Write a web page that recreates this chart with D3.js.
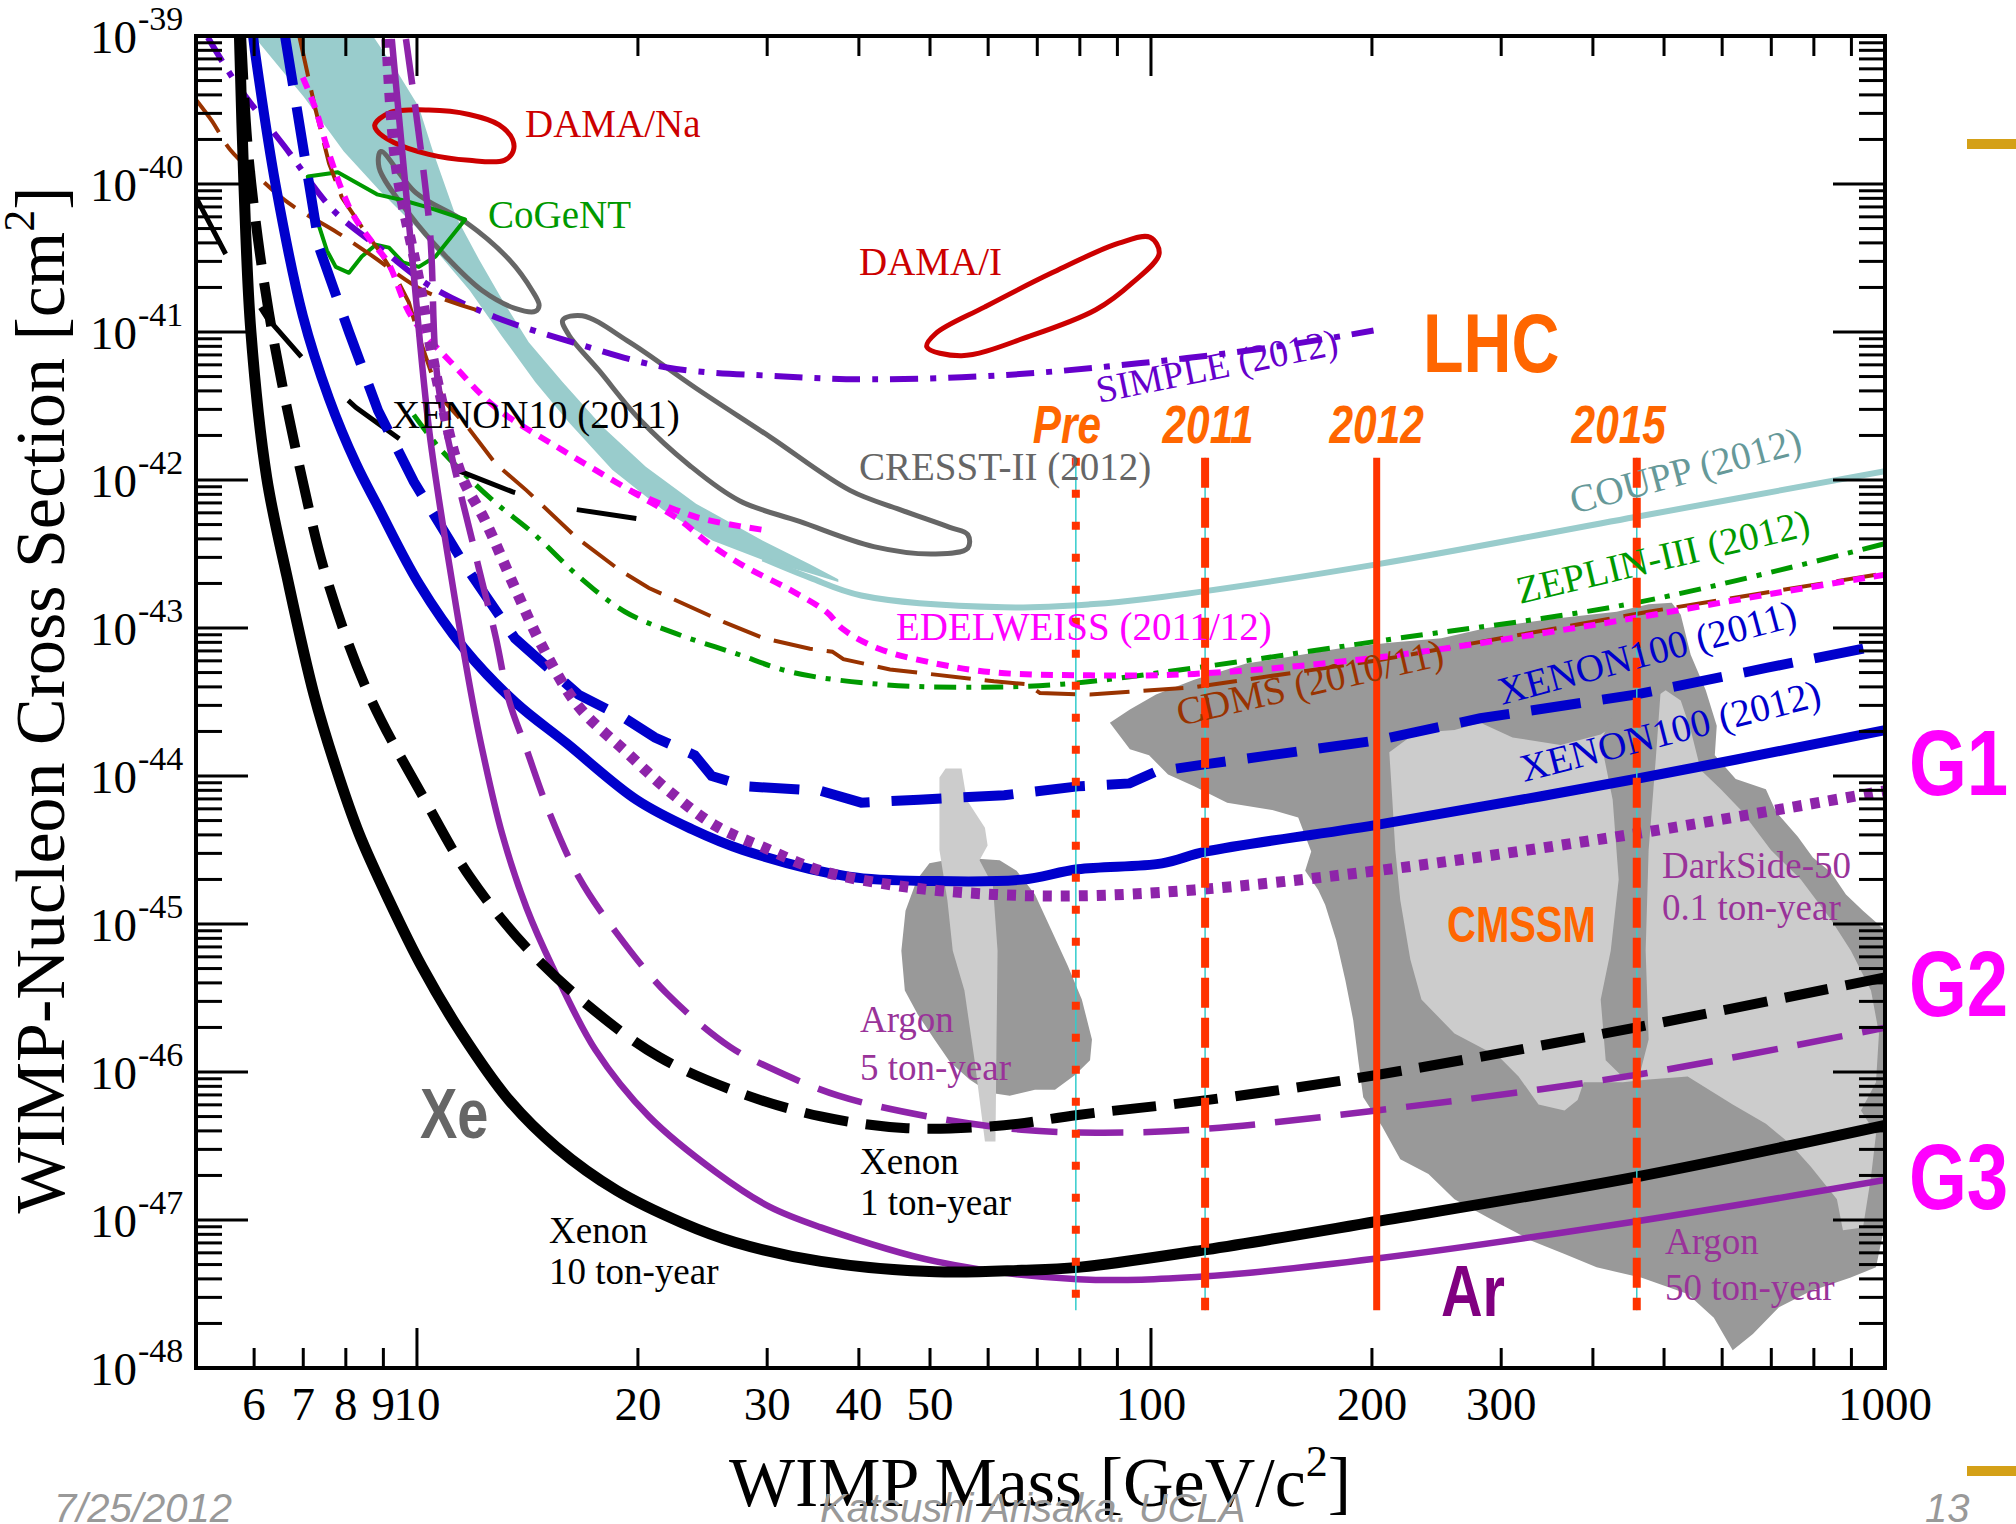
<!DOCTYPE html>
<html><head><meta charset="utf-8">
<script src="https://cdn.jsdelivr.net/npm/d3@7"></script>
<style>body{margin:0;background:#fff}svg{display:block}</style>
</head><body>
<svg id="c" width="2016" height="1524"></svg>
<script>
// ---------- DATA: [WIMP mass (GeV), log10(cross section / cm^2)] ----------
const xenon10t = [[5.73,-39.0],[5.81,-39.99],[5.94,-41.0],[6.24,-41.98],[6.65,-42.65],[7.24,-43.45],[7.75,-43.94],[8.34,-44.39],[9.16,-44.84],[10.16,-45.29],[11.5,-45.74],[13.35,-46.19],[15.5,-46.51],[18.7,-46.80],[23.0,-47.02],[27.1,-47.15],[35.5,-47.28],[50.9,-47.35],[66.7,-47.34],[79.5,-47.32],[119,-47.20],[203,-47.01],[457,-46.71],[1000,-46.36]];
const xenon1t = [[5.76,-39.0],[5.90,-39.83],[6.28,-40.86],[6.99,-42.01],[7.54,-42.67],[8.6,-43.45],[10.3,-44.18],[11.8,-44.68],[14.1,-45.16],[17.2,-45.56],[21.4,-45.90],[27.5,-46.14],[35.5,-46.30],[46.5,-46.38],[63.1,-46.36],[79.5,-46.29],[119,-46.19],[203,-46.02],[457,-45.70],[1000,-45.36]];
const xenon100_2012 = [[5.98,-39.0],[6.03,-39.14],[6.42,-40.01],[6.99,-40.89],[7.59,-41.45],[8.26,-41.89],[8.85,-42.18],[10.06,-42.70],[11.6,-43.14],[13.6,-43.50],[16.0,-43.78],[19.9,-44.16],[23.7,-44.36],[27.8,-44.50],[38.8,-44.68],[50.9,-44.71],[66.7,-44.70],[79.5,-44.63],[103.5,-44.59],[119,-44.51],[203,-44.33],[457,-44.02],[1000,-43.69]];
const xenon100_2011 = [[6.61,-39.0],[6.84,-39.45],[7.37,-40.44],[8.08,-41.0],[8.85,-41.53],[9.9,-42.01],[11.6,-42.57],[13.6,-43.07],[16.6,-43.45],[19.2,-43.61],[21.1,-43.74],[23.9,-43.86],[25.2,-44.0],[28.1,-44.07],[35.5,-44.10],[40.3,-44.18],[48.3,-44.16],[63.1,-44.13],[79.5,-44.07],[93.5,-44.05],[101.6,-43.97],[119,-43.92],[203,-43.76],[281,-43.61],[457,-43.45],[689,-43.27],[1000,-43.11]];
const darkside50 = [[9.1,-39.02],[9.36,-39.86],[10.06,-40.65],[10.7,-41.37],[11.5,-41.97],[12.4,-42.28],[13.6,-42.73],[14.8,-43.12],[16.6,-43.53],[19.3,-43.84],[21.9,-44.09],[25.6,-44.34],[29.6,-44.48],[35.5,-44.64],[46.5,-44.75],[61.1,-44.80],[79.5,-44.81],[114.5,-44.77],[203,-44.64],[457,-44.39],[1000,-44.10]];
const argon5t = [[9.66,-39.02],[10.4,-40.28],[10.7,-41.37],[12.0,-42.49],[12.8,-43.06],[13.35,-43.49],[14.1,-43.82],[15.1,-44.23],[16.6,-44.68],[18.7,-45.06],[21.9,-45.47],[26.7,-45.83],[30.2,-45.97],[37.5,-46.16],[50.9,-46.31],[66.7,-46.39],[84.3,-46.41],[114.5,-46.39],[203,-46.26],[457,-46.02],[1000,-45.70]];
const argon50t = [[9.24,-39.02],[9.84,-40.47],[10.4,-41.68],[11.2,-42.73],[11.9,-43.49],[12.27,-43.82],[13.06,-44.39],[14.1,-44.89],[15.3,-45.29],[17.5,-45.85],[20.7,-46.30],[25.6,-46.68],[30.2,-46.91],[35.5,-47.05],[50.9,-47.28],[79.5,-47.40],[119,-47.38],[203,-47.26],[457,-47.01],[1000,-46.73]];
const simple2012 = [[5.19,-39.01],[5.71,-39.34],[6.61,-39.75],[7.70,-40.18],[9.0,-40.45],[10.5,-40.70],[12.8,-40.90],[16.3,-41.07],[21.9,-41.24],[31.6,-41.30],[41.8,-41.32],[63.6,-41.29],[96.9,-41.21],[147.6,-41.10],[201,-40.99]];
const coupp2012 = [[29.6,-42.53],[34.3,-42.66],[40.3,-42.78],[63.1,-42.86],[82.6,-42.84],[103.5,-42.79],[203,-42.57],[457,-42.25],[1000,-41.94]];
const zeplin3 = [[9.9,-41.56],[10.8,-41.80],[12.7,-42.14],[14.4,-42.36],[16.6,-42.65],[19.2,-42.89],[22.6,-43.04],[27.1,-43.17],[32.5,-43.30],[42.6,-43.38],[55.8,-43.40],[75.6,-43.38],[114.5,-43.27],[203,-43.09],[457,-42.83],[1000,-42.43]];
const edelweiss = [[6.99,-39.28],[7.26,-39.48],[7.54,-39.75],[7.90,-40.04],[8.21,-40.22],[8.71,-40.40],[9.13,-40.53],[9.84,-40.90],[11.3,-41.24],[12.8,-41.51],[15.8,-41.80],[19.5,-42.07],[22.8,-42.27],[25.0,-42.43],[28.1,-42.59],[31.9,-42.73],[36.1,-42.89],[38.1,-43.01],[42.6,-43.14],[50.9,-43.24],[61.1,-43.30],[82.6,-43.32],[114.5,-43.31],[203,-43.20],[389,-42.99],[717,-42.76],[1000,-42.64]];
const edelweissBranch = [[19.5,-42.07],[24.0,-42.25],[29.9,-42.34]];
const cdms = [[6.92,-39.01],[7.26,-39.48],[7.59,-39.86],[7.90,-40.09],[8.41,-40.29],[8.88,-40.45],[9.36,-40.63],[9.75,-40.80],[10.06,-41.03],[10.5,-41.30],[10.95,-41.48],[11.8,-41.66],[12.8,-41.89],[14.1,-42.07],[16.5,-42.39],[18.9,-42.61],[20.7,-42.73],[26.2,-42.96],[29.7,-43.07],[34.3,-43.14],[36.8,-43.16],[38.1,-43.21],[44.1,-43.28],[61.1,-43.36],[67.9,-43.38],[70.6,-43.44],[82.6,-43.45],[114.5,-43.40],[203,-43.22],[476,-42.89],[1000,-42.63]];
const cdmsLow = [[5.0,-39.43],[5.25,-39.57],[5.57,-39.77],[6.07,-39.95],[6.69,-40.13],[7.80,-40.33],[8.60,-40.47],[10.2,-40.72],[12.04,-40.85]];
const xenon10_2011 = [[5.0,-40.09],[5.51,-40.49],[6.24,-40.90],[7.08,-41.21],[8.26,-41.51],[9.51,-41.73],[11.3,-41.93],[13.5,-42.08],[16.5,-42.20],[19.9,-42.26]];
const tealBand = [[8.71,-39.0],[9.45,-39.26],[10.06,-39.48],[10.5,-39.77],[11.3,-40.22],[12.15,-40.51],[13.06,-40.78],[14.2,-41.07],[15.8,-41.34],[17.9,-41.64],[20.5,-41.91],[24.0,-42.16],[29.6,-42.41],[34.3,-42.57],[37.5,-42.67],
  [37.5,-42.69],[34.3,-42.63],[29.6,-42.54],[25.3,-42.41],[21.6,-42.20],[18.45,-41.93],[16.1,-41.61],[14.5,-41.34],[13.06,-41.03],[11.8,-40.72],[10.7,-40.47],[9.97,-40.29],[8.88,-40.04],[7.95,-39.78],[7.01,-39.41],[5.99,-39.0]];
const cresstA = [[8.93,-39.78],[9.97,-40.06],[11.67,-40.26],[13.35,-40.51],[14.35,-40.72],[14.67,-40.82],[14.5,-40.86],[13.6,-40.84],[12.27,-40.72],[10.95,-40.49],[9.75,-40.20],[8.88,-39.89]];
const cresstB = [[15.8,-40.92],[16.8,-40.89],[19.5,-41.07],[24.0,-41.38],[30.3,-41.71],[38.9,-42.07],[45.5,-42.20],[53.2,-42.32],[56.3,-42.37],[56.3,-42.46],[50.9,-42.50],[41.9,-42.45],[33.2,-42.28],[27.5,-42.14],[23.5,-41.90],[20.1,-41.59],[17.7,-41.26],[16.1,-41.02]];
const damaNa = [[8.76,-39.60],[9.16,-39.52],[10.38,-39.50],[11.78,-39.53],[12.94,-39.60],[13.5,-39.70],[13.52,-39.78],[13.15,-39.84],[11.78,-39.84],[10.38,-39.80],[9.30,-39.72],[8.82,-39.64]];
const damaI = [[49.5,-41.10],[55.2,-41.16],[68.2,-41.03],[84.1,-40.85],[94.2,-40.67],[102.6,-40.47],[99.7,-40.36],[90.4,-40.40],[73.3,-40.60],[59.4,-40.83],[50.9,-41.01]];
const cogent = [[7.10,-39.95],[7.80,-39.92],[8.82,-40.07],[9.57,-40.11],[10.38,-40.16],[11.63,-40.24],[10.6,-40.49],[10.06,-40.56],[9.57,-40.53],[9.16,-40.43],[8.79,-40.41],[8.41,-40.49],[8.08,-40.60],[7.75,-40.56],[7.54,-40.45],[7.35,-40.28]];
const cmssmSmallDark = [[45.7,-45.18],[46.3,-44.91],[48.0,-44.70],[49.9,-44.59],[54.9,-44.55],[62.2,-44.57],[65.6,-44.64],[69.5,-44.80],[73.0,-45.03],[77.0,-45.28],[80.5,-45.51],[83.1,-45.78],[82.6,-45.92],[78.8,-46.02],[74.0,-46.12],[69.5,-46.12],[64.2,-46.16],[60.3,-46.14],[56.6,-46.05],[53.2,-45.93],[50.7,-45.78],[48.1,-45.61],[46.2,-45.45]];
const cmssmSmallLight = [[51.5,-44.01],[52.5,-43.95],[55.2,-43.95],[56.1,-44.16],[59.4,-44.35],[59.9,-44.47],[58.4,-44.57],[60.9,-44.74],[61.8,-45.18],[61.6,-45.78],[61.4,-46.47],[59.4,-46.47],[57.5,-45.92],[55.7,-45.45],[53.7,-45.18],[52.8,-44.84],[51.5,-44.50]];
const cmssmDark = [[87.9,-43.64],[93.6,-43.55],[101.6,-43.45],[114.5,-43.35],[134.8,-43.24],[152.3,-43.20],[179.4,-43.14],[211.2,-43.10],[248.7,-43.07],[286.4,-43.00],[351.3,-42.94],[430.9,-42.89],[476.4,-42.84],[512.2,-42.83],[526.9,-42.91],[543.6,-43.18],[569.9,-43.42],[589.9,-43.66],[586.3,-43.86],[626.1,-44.02],[688.2,-44.09],[710.2,-44.24],[760.8,-44.41],[797.5,-44.55],[843.9,-44.65],[884.7,-44.80],[933.3,-44.91],[994,-45.03],[994,-47.09],[972.1,-47.32],[896.2,-47.39],[792.5,-47.48],[716.9,-47.59],[660.7,-47.77],[620.2,-47.88],[584.5,-47.66],[538.5,-47.50],[466.2,-47.39],[404.7,-47.32],[365.9,-47.23],[329.9,-47.14],[291.9,-47.00],[259.1,-46.86],[238.8,-46.69],[218.6,-46.59],[206.6,-46.37],[194.6,-46.17],[191.6,-45.92],[188.6,-45.65],[184.0,-45.38],[178.8,-45.11],[172.7,-44.87],[169.0,-44.77],[162.2,-44.64],[165.3,-44.51],[158.7,-44.28],[146.3,-44.23],[127.0,-44.18],[114.5,-44.07],[105.5,-43.99],[99.4,-43.86],[93.6,-43.82]];
const cmssmLight = [[211.2,-43.84],[229.2,-43.71],[259.1,-43.69],[281.1,-43.64],[310.9,-43.74],[361.4,-43.79],[409.9,-43.72],[479.6,-43.49],[502.5,-43.42],[526.9,-43.49],[543.6,-43.69],[561.0,-43.96],[597.5,-44.09],[636.1,-44.23],[699.1,-44.50],[768.0,-44.70],[843.9,-44.97],[898.6,-45.18],[957.0,-45.45],[981.3,-45.74],[972.1,-46.07],[927.4,-46.26],[972.1,-46.42],[957.0,-46.71],[933.3,-47.05],[876.4,-47.07],[860.0,-46.86],[792.5,-46.64],[744.4,-46.49],[688.2,-46.35],[620.2,-46.22],[538.5,-46.03],[476.4,-46.05],[439.2,-46.07],[388.6,-46.07],[381.3,-46.19],[365.9,-46.26],[337.3,-46.22],[316.8,-46.03],[298.4,-45.90],[259.1,-45.74],[233.6,-45.51],[225.6,-45.24],[218.6,-44.84],[215.2,-44.50],[213.2,-44.16]];
const cmssmArm = [[409.9,-43.76],[436.5,-43.49],[464.7,-43.35],[494.8,-43.42],[487.1,-43.89],[476.4,-44.50],[472.0,-45.18],[476.4,-45.78],[464.7,-45.99],[436.5,-46.02],[416.4,-45.92],[409.9,-45.51],[423.0,-45.18],[433.7,-44.70],[425.6,-44.16]];
const lhcMass = [79, 118.5, 203, 459];
const lhcLabels = ['Pre', '2011', '2012', '2015'];
const lhcSpan = [-41.85, -47.61];
const xMinorTicks = [6,7,8,9,20,30,40,50,60,70,80,90,200,300,400,500,600,700,800,900];
const xMajorTicks = [10,100];
const xTickLabels = [6,7,8,9,10,20,30,40,50,100,200,300,1000];
const yDecades = [-48,-47,-46,-45,-44,-43,-42,-41,-40,-39];

// ---------- SETUP ----------
const W = 2016, H = 1524;
const L = 196, R = 1885, T = 36, B = 1368;
const SERIF = "'Liberation Serif','Times New Roman',serif";
const NARROW = "'Liberation Sans Narrow','Arial Narrow','Liberation Sans',sans-serif";
const SANS = "'Liberation Sans',Arial,sans-serif";
const svg = d3.select('#c');
svg.append('rect').attr('width', W).attr('height', H).attr('fill', '#fff');
const x = d3.scaleLog().domain([5, 1000]).range([L, R]);
const y = d3.scaleLinear().domain([-48, -39]).range([B, T]);

svg.append('defs').append('clipPath').attr('id', 'clip')
  .append('rect').attr('x', L).attr('y', T).attr('width', R - L).attr('height', B - T);
const plot = svg.append('g').attr('clip-path', 'url(#clip)');

const smooth = d3.line().x(d => x(d[0])).y(d => y(d[1])).curve(d3.curveCatmullRom.alpha(0.5));
const linear = d3.line().x(d => x(d[0])).y(d => y(d[1]));
const closedSmooth = d3.line().x(d => x(d[0])).y(d => y(d[1])).curve(d3.curveCatmullRomClosed.alpha(0.5));
const closedLin = d3.line().x(d => x(d[0])).y(d => y(d[1])).curve(d3.curveLinearClosed);

// CMSSM regions
plot.append('path').attr('d', closedLin(cmssmDark)).attr('fill', '#999999');
plot.append('path').attr('d', closedLin(cmssmLight)).attr('fill', '#cccccc');
plot.append('path').attr('d', closedLin(cmssmArm)).attr('fill', '#999999');
plot.append('path').attr('d', closedLin(cmssmSmallDark)).attr('fill', '#999999');
plot.append('path').attr('d', closedLin(cmssmSmallLight)).attr('fill', '#cccccc');

// teal band
plot.append('path').attr('d', closedLin(tealBand)).attr('fill', '#99cccc');

// closed contours
plot.append('path').attr('d', closedSmooth(cresstA)).attr('fill', 'none').attr('stroke', '#666666').attr('stroke-width', 5);
plot.append('path').attr('d', closedSmooth(cresstB)).attr('fill', 'none').attr('stroke', '#666666').attr('stroke-width', 5);
plot.append('path').attr('d', closedSmooth(damaNa)).attr('fill', 'none').attr('stroke', '#cc0000').attr('stroke-width', 5);
plot.append('path').attr('d', closedSmooth(damaI)).attr('fill', 'none').attr('stroke', '#cc0000').attr('stroke-width', 5);
plot.append('path').attr('d', closedLin(cogent)).attr('fill', 'none').attr('stroke', '#009900').attr('stroke-width', 4).attr('stroke-linejoin', 'round');

function curve(data, color, width, dash, gen) {
  const p = plot.append('path').attr('d', (gen || smooth)(data)).attr('fill', 'none')
    .attr('stroke', color).attr('stroke-width', width);
  if (dash) p.attr('stroke-dasharray', dash);
  return p;
}
const PURPLE = '#8e24aa';
curve(coupp2012, '#99cccc', 6);
curve(simple2012, '#6600cc', 6, '28,12,6,12');
curve(zeplin3, '#009900', 5, '22,10,5,10');
curve(cdmsLow, '#993300', 4, '40,14');
curve(cdms, '#993300', 4, '40,14', linear);
curve(edelweissBranch, '#ff00ff', 6, '12,9');
curve(edelweiss, '#ff00ff', 6, '12,9');
curve(xenon10_2011, '#000000', 5, '64,64', linear);
curve(xenon100_2011, '#0000cc', 10, '50,22', linear);
curve(xenon100_2012, '#0000cc', 10);
curve(darkside50, PURPLE, 11, '9,9');
curve(argon5t, PURPLE, 6.5, '46,20');
curve(argon50t, PURPLE, 6.5);
curve(xenon1t, '#000000', 10, '44,18');
curve(xenon10t, '#000000', 11);

// LHC lines
const lhcDash = ['8,24', '30,10', null, '30,10'];
lhcMass.forEach((m, i) => {
  const X = x(m);
  if (i !== 2) svg.append('line').attr('x1', X).attr('x2', X).attr('y1', y(lhcSpan[0])).attr('y2', y(lhcSpan[1]))
    .attr('stroke', '#33cccc').attr('stroke-width', 1.5);
  const l = svg.append('line').attr('x1', X).attr('x2', X).attr('y1', y(lhcSpan[0])).attr('y2', y(lhcSpan[1]))
    .attr('stroke', '#ff3300').attr('stroke-width', i === 2 ? 7 : 8);
  if (lhcDash[i]) l.attr('stroke-dasharray', lhcDash[i]);
});

// condensed bold text helper (horizontal squeeze)
function big(t, px, py, size, color, anchor, italic) {
  svg.append('text').attr('transform', `translate(${px},${py}) scale(0.8,1)`)
    .attr('font-family', NARROW).attr('font-weight', 'bold').attr('font-style', italic ? 'italic' : 'normal')
    .attr('font-size', size).attr('fill', color).attr('text-anchor', anchor || 'start').text(t);
}
const lhcOff = [-9, 3, 0, -18];
lhcMass.forEach((m, i) => big(lhcLabels[i], x(m) + lhcOff[i], 443, 53, '#ff6600', 'middle', true));

// ---------- AXES ----------
const ax = svg.append('g').attr('stroke', '#000');
xMinorTicks.forEach(v => {
  ax.append('line').attr('x1', x(v)).attr('x2', x(v)).attr('y1', B).attr('y2', B - 20).attr('stroke-width', 3);
  ax.append('line').attr('x1', x(v)).attr('x2', x(v)).attr('y1', T).attr('y2', T + 20).attr('stroke-width', 3);
});
xMajorTicks.forEach(v => {
  ax.append('line').attr('x1', x(v)).attr('x2', x(v)).attr('y1', B).attr('y2', B - 40).attr('stroke-width', 3);
  ax.append('line').attr('x1', x(v)).attr('x2', x(v)).attr('y1', T).attr('y2', T + 40).attr('stroke-width', 3);
});
yDecades.forEach(e => {
  const Y = y(e);
  ax.append('line').attr('x1', L).attr('x2', L + 52).attr('y1', Y).attr('y2', Y).attr('stroke-width', 3);
  ax.append('line').attr('x1', R).attr('x2', R - 52).attr('y1', Y).attr('y2', Y).attr('stroke-width', 3);
  if (e < -39) for (let k = 2; k <= 9; k++) {
    const Yk = y(e + Math.log10(k));
    ax.append('line').attr('x1', L).attr('x2', L + 26).attr('y1', Yk).attr('y2', Yk).attr('stroke-width', 3);
    ax.append('line').attr('x1', R).attr('x2', R - 26).attr('y1', Yk).attr('y2', Yk).attr('stroke-width', 3);
  }
});
svg.append('rect').attr('x', L).attr('y', T).attr('width', R - L).attr('height', B - T)
  .attr('fill', 'none').attr('stroke', '#000').attr('stroke-width', 4);

xTickLabels.forEach(v => {
  svg.append('text').attr('x', x(v)).attr('y', 1420).attr('text-anchor', 'middle')
    .attr('font-family', SERIF).attr('font-size', 47).attr('fill', '#000').text(v);
});
yDecades.forEach(e => {
  const Y = y(e);
  svg.append('text').attr('x', 137).attr('y', Y + 17).attr('text-anchor', 'end')
    .attr('font-family', SERIF).attr('font-size', 47).text('10');
  svg.append('text').attr('x', 138).attr('y', Y - 6)
    .attr('font-family', SERIF).attr('font-size', 34).text(String(e));
});

// axis titles
const xt = svg.append('text').attr('x', 1040).attr('y', 1506).attr('text-anchor', 'middle')
  .attr('font-family', SERIF).attr('font-size', 70);
xt.append('tspan').text('WIMP Mass [GeV/c');
xt.append('tspan').attr('font-size', 44).attr('dy', -30).text('2');
xt.append('tspan').attr('dy', 30).text(']');
const yt = svg.append('text').attr('transform', 'translate(64,700) rotate(-90)').attr('text-anchor', 'middle')
  .attr('font-family', SERIF).attr('font-size', 70);
yt.append('tspan').text('WIMP-Nucleon Cross Section [cm');
yt.append('tspan').attr('font-size', 44).attr('dy', -30).text('2');
yt.append('tspan').attr('dy', 30).text(']');

// ---------- ANNOTATIONS ----------
function note(t, px, py, color, angle, size) {
  const el = svg.append('text').attr('font-family', SERIF).attr('font-size', size || 39).attr('fill', color).text(t);
  if (angle) el.attr('transform', `translate(${px},${py}) rotate(${angle})`);
  else el.attr('x', px).attr('y', py);
  return el;
}
note('DAMA/Na', 525, 137, '#cc0000');
note('CoGeNT', 488, 228, '#009900');
note('DAMA/I', 859, 275, '#cc0000');
note('SIMPLE (2012)', 1099, 403, '#6600cc', -11.5, 38);
note('XENON10 (2011)', 392, 428, '#000000');
note('CRESST-II (2012)', 859, 480, '#666666');
note('EDELWEISS (2011/12)', 896, 640, '#ff00ff');
note('COUPP (2012)', 1574, 514, '#669999', -15);
note('ZEPLIN-III (2012)', 1520, 604, '#009900', -13.3);
note('CDMS (2010/11)', 1180, 726, '#993300', -13);
note('XENON100 (2011)', 1502, 705, '#0000cc', -15);
note('XENON100 (2012)', 1524, 782, '#0000cc', -14.4);
note('DarkSide-50', 1662, 878, '#993399', 0, 37);
note('0.1 ton-year', 1662, 920, '#993399', 0, 37);
note('Argon', 860, 1032, '#993399', 0, 37);
note('5 ton-year', 860, 1080, '#993399', 0, 37);
note('Xenon', 860, 1174, '#000000', 0, 37);
note('1 ton-year', 860, 1215, '#000000', 0, 37);
note('Xenon', 549, 1243, '#000000', 0, 37);
note('10 ton-year', 549, 1284, '#000000', 0, 37);
note('Argon', 1665, 1254, '#993399', 0, 37);
note('50 ton-year', 1665, 1300, '#993399', 0, 37);

big('LHC', 1423, 372, 83, '#ff6600');
big('CMSSM', 1447, 942, 50, '#ff6600');
big('G1', 1909, 795, 93, '#ff00ff');
big('G2', 1909, 1016, 93, '#ff00ff');
big('G3', 1909, 1209, 93, '#ff00ff');
big('Xe', 420, 1138, 70, '#666666');
big('Ar', 1441, 1316, 72, '#800080');

// footer
svg.append('rect').attr('x', 1967).attr('y', 139).attr('width', 49).attr('height', 10).attr('fill', '#d4a017');
svg.append('rect').attr('x', 1967).attr('y', 1466).attr('width', 49).attr('height', 10).attr('fill', '#d4a017');
function foot(t, px, anchor) {
  svg.append('text').attr('x', px).attr('y', 1522).attr('font-family', SANS).attr('font-style', 'italic')
    .attr('font-size', 40).attr('fill', '#999999').attr('text-anchor', anchor || 'start').text(t);
}
foot('7/25/2012', 54);
foot('Katsushi Arisaka. UCLA', 820);
foot('13', 1925);
</script>
</body></html>
